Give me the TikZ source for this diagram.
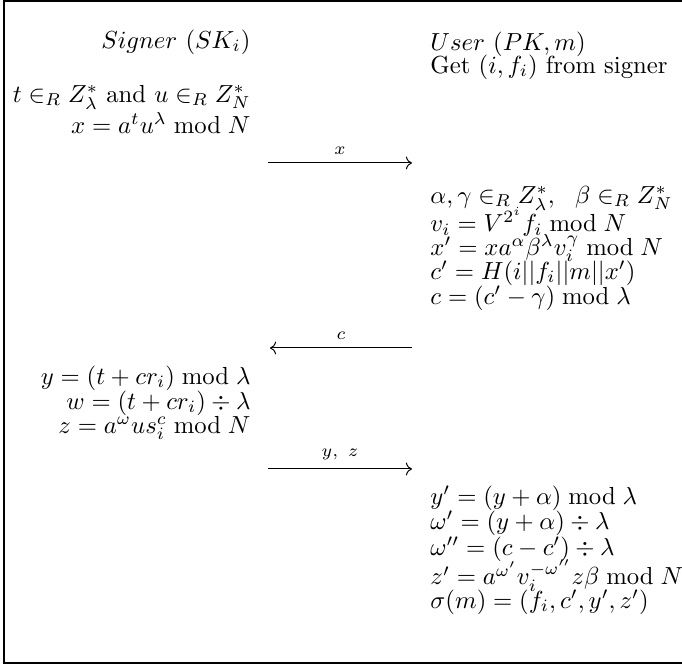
\documentclass[tikz,border=0pt]{standalone}
\usepackage{amsmath, amssymb}
\usepackage{tikz}
\usetikzlibrary{arrows.meta, positioning}

\begin{document}
\begin{tikzpicture}[
    x=0.405pt, y=-0.405pt,
    lft/.style={anchor=east, inner sep=0pt},
    rgt/.style={anchor=west, inner sep=0pt},
    msg/.style={->},
    lbl/.style={midway, above, font=\scriptsize}
]
    \useasboundingbox (0,0) rectangle (682,667);
    \draw[line width=0.8pt] (4,1) rectangle (720,663);

    % Signer
    \node[lft] (sgn) at (251,42) {$Signer\ (SK_i)$};
    \node[lft] (tu) at (251,97) {$t\in_R Z_\lambda^*$ and $u\in_R Z_N^*$};
    \node[lft] (xx) at (251,123) {$x=a^tu^\lambda \bmod N$};
    \node[lft] (yy) at (251,378) {$y=(t+cr_i) \bmod \lambda$};
    \node[lft] (ww) at (251,403) {$w=(t+cr_i)\div\lambda$};
    \node[lft] (zz) at (251,428) {$z=a^\omega us_i^c \bmod N$};

    % User
    \node[rgt] (usr) at (430,44) {$User\ (PK,m)$};
    \node[rgt] (get) at (430,67) {Get $(i,f_i)$ from signer};
    \node[rgt] (agb) at (430,198) {$\alpha,\gamma\in_R Z_\lambda^*,\ \ \beta\in_R Z_N^*$};
    \node[rgt] (vi) at (430,222) {$v_i=V^{2^i}f_i \bmod N$};
    \node[rgt] (xp) at (430,248) {$x'=xa^\alpha\beta^\lambda v_i^\gamma \bmod N$};
    \node[rgt] (cp) at (430,273) {$c'=H(i||f_i||m||x')$};
    \node[rgt] (cc) at (430,298) {$c=(c'-\gamma) \bmod \lambda$};
    \node[rgt] (yp) at (430,498) {$y'=(y+\alpha) \bmod \lambda$};
    \node[rgt] (wp) at (430,523) {$\omega'=(y+\alpha)\div\lambda$};
    \node[rgt] (wpp) at (430,549) {$\omega''=(c-c')\div\lambda$};
    \node[rgt] (zp) at (430,576) {$z'=a^{\omega'}v_i^{-\omega''}z\beta \bmod N$};
    \node[rgt] (sig) at (430,602) {$\sigma(m)=(f_i,c',y',z')$};

    % messages
    \coordinate (xa) at (268,163);
    \coordinate (xb) at (412,163);
    \coordinate (ca) at (412,348);
    \coordinate (cb) at (270,348);
    \coordinate (yza) at (268,469);
    \coordinate (yzb) at (412,469);
    \draw[msg] (xa) -- node[lbl] {$x$} (xb);
    \draw[msg] (ca) -- node[lbl] {$c$} (cb);
    \draw[msg] (yza) -- node[lbl] {$y,\ z$} (yzb);
\end{tikzpicture}
\end{document}
